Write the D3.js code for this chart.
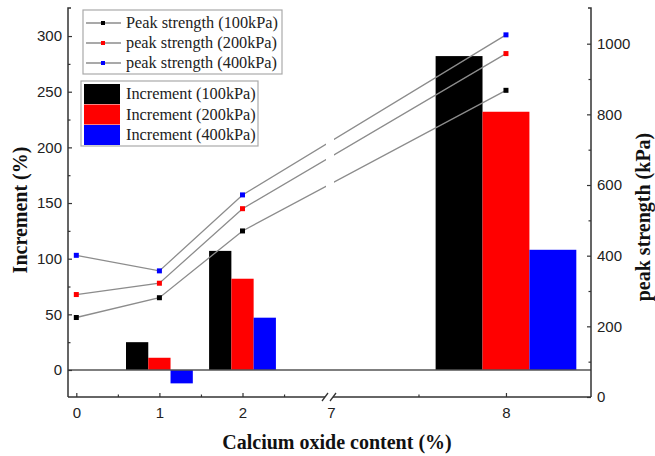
<!DOCTYPE html>
<html>
<head>
<meta charset="utf-8">
<script src="https://cdn.jsdelivr.net/npm/d3@7"></script>
<style>
  body { margin: 0; background: #fff; }
  svg { display: block; }
  .tick text { font-family: "Liberation Sans", Arial, sans-serif; font-size: 15px; fill: #222; }
</style>
</head>
<body>
<div id="chart"></div>
<script>
// calcium oxide content (%) for the strength points
const contents = [0, 1, 2, 8];
const peak100 = [225, 281, 470, 868];
const peak200 = [290, 322, 533, 972];
const peak400 = [401, 357, 572, 1025];

// increments only exist at 1, 2 and 8 %
const barContents = [1, 2, 8];
const inc100 = [25, 107, 282];
const inc200 = [11, 82, 232];
const inc400 = [-12, 47, 108];

const xTicks1 = [0, 1, 2];
const xTicks2 = [7, 8];
const leftTicks = [0, 50, 100, 150, 200, 250, 300];
const rightTicks = [0, 200, 400, 600, 800, 1000];

const lineNames = ["Peak strength (100kPa)", "peak strength (200kPa)", "peak strength (400kPa)"];
const barNames = ["Increment (100kPa)", "Increment (200kPa)", "Increment (400kPa)"];
const colors = ["#000000", "#ff0000", "#0000ff"];

const width = 655, height = 456;
const margin = { left: 68, right: 591, top: 8, bottom: 397 };
const breakL = 326, breakR = 334;

const svg = d3.select("#chart").append("svg")
    .attr("width", width)
    .attr("height", height);

// broken x axis: two linear pieces
const x1 = d3.scaleLinear().domain([-0.1, 3]).range([margin.left, 325.6]);
const x2 = d3.scaleLinear().domain([7, 8.486]).range([331, margin.right]);
const x = v => v <= 3.5 ? x1(v) : x2(v);
const px = v => v <= 3.5 ? 83.1 : 175;   // px per unit, for bar widths

const yL = d3.scaleLinear().domain([-24.25, 325.2]).range([margin.bottom, margin.top]);
const yR = d3.scaleLinear().domain([0, 1101]).range([margin.bottom, margin.top]);

const axisColor = "#333";
const fmt = d3.format("d");

// bars
const barW = 0.268;
const barSeries = [inc100, inc200, inc400];
barSeries.forEach((s, i) => {
    svg.append("g")
        .selectAll("rect")
        .data(s.map((v, j) => ({c: barContents[j], v})))
        .join("rect")
        .attr("x", d => x(d.c) + (i - 1.5) * barW * px(d.c))
        .attr("width", d => barW * px(d.c))
        .attr("y", d => Math.min(yL(d.v), yL(0)))
        .attr("height", d => Math.abs(yL(d.v) - yL(0)))
        .attr("fill", colors[i]);
});

// zero line
svg.append("line")
    .attr("x1", margin.left).attr("x2", margin.right)
    .attr("y1", yL(0)).attr("y2", yL(0))
    .attr("stroke", "#555").attr("stroke-width", 1.5);

// strength lines, cut at the axis break
const clip = svg.append("clipPath").attr("id", "gap");
clip.append("rect").attr("x", 0).attr("y", 0).attr("width", breakL).attr("height", height);
clip.append("rect").attr("x", breakR).attr("y", 0).attr("width", width - breakR).attr("height", height);

const lineSeries = [peak100, peak200, peak400];
const line = d3.line().x(d => x(d.c)).y(d => yR(d.v));
lineSeries.forEach((s, i) => {
    const pts = s.map((v, j) => ({c: contents[j], v}));
    svg.append("path")
        .datum(pts)
        .attr("clip-path", "url(#gap)")
        .attr("fill", "none")
        .attr("stroke", "#8c8c8c")
        .attr("stroke-width", 1.3)
        .attr("d", line);
    svg.append("g")
        .selectAll("rect")
        .data(pts)
        .join("rect")
        .attr("x", d => x(d.c) - 2.5)
        .attr("y", d => yR(d.v) - 2.5)
        .attr("width", 5).attr("height", 5)
        .attr("fill", colors[i]);
});

// axes
function styleAxis(g) {
    g.select(".domain").remove();
    g.selectAll(".tick line").attr("stroke", axisColor).attr("stroke-width", 1.2);
}

svg.append("g")
    .attr("transform", `translate(${margin.left},0)`)
    .call(d3.axisLeft(yL).tickValues(leftTicks).tickFormat(fmt).tickSize(-4).tickPadding(6))
    .call(styleAxis);
svg.append("g")
    .attr("transform", `translate(${margin.left},0)`)
    .call(d3.axisLeft(yL).tickValues(d3.range(25, 325, 50)).tickSize(-2.5).tickFormat(""))
    .call(styleAxis);

svg.append("g")
    .attr("transform", `translate(${margin.right},0)`)
    .call(d3.axisRight(yR).tickValues(rightTicks).tickFormat(fmt).tickSize(-4).tickPadding(6))
    .call(styleAxis);
svg.append("g")
    .attr("transform", `translate(${margin.right},0)`)
    .call(d3.axisRight(yR).tickValues(d3.range(100, 1100, 200)).tickSize(-2.5).tickFormat(""))
    .call(styleAxis);

svg.append("g")
    .attr("transform", `translate(0,${margin.bottom})`)
    .call(d3.axisBottom(x1).tickValues(xTicks1).tickFormat(fmt).tickSize(-4).tickPadding(10))
    .call(styleAxis);
svg.append("g")
    .attr("transform", `translate(0,${margin.bottom})`)
    .call(d3.axisBottom(x1).tickValues([0.5, 1.5, 2.5]).tickSize(-2.5).tickFormat(""))
    .call(styleAxis);
const xa2 = svg.append("g")
    .attr("transform", `translate(0,${margin.bottom})`)
    .call(d3.axisBottom(x2).tickValues(xTicks2).tickFormat(fmt).tickSize(-4).tickPadding(10))
    .call(styleAxis);
xa2.selectAll(".tick").filter(d => d === 7).select("line").remove();
svg.append("g")
    .attr("transform", `translate(0,${margin.bottom})`)
    .call(d3.axisBottom(x2).tickValues([7.5]).tickSize(-2.5).tickFormat(""))
    .call(styleAxis);

// axis lines
const frame = svg.append("g").attr("stroke", axisColor).attr("stroke-width", 1.5).attr("fill", "none");
frame.append("path").attr("d", `M${margin.left + 3},${margin.top}H${margin.left}V${margin.bottom}`);
frame.append("path").attr("d", `M${margin.right - 3},${margin.top}H${margin.right}V${margin.bottom}`);
frame.append("line").attr("x1", margin.left).attr("x2", breakL - 1).attr("y1", margin.bottom).attr("y2", margin.bottom);
frame.append("line").attr("x1", breakR - 1).attr("x2", margin.right).attr("y1", margin.bottom).attr("y2", margin.bottom);
[breakL - 1, breakR - 1].forEach(bx => {
    frame.append("line")
        .attr("x1", bx - 3).attr("y1", margin.bottom + 4)
        .attr("x2", bx + 3).attr("y2", margin.bottom - 4)
        .attr("stroke-width", 1.3);
});

// axis titles
const titleFont = "'Liberation Serif', 'Times New Roman', serif";
svg.append("text")
    .attr("x", 337).attr("y", 449)
    .attr("text-anchor", "middle")
    .style("font-family", titleFont).style("font-weight", "bold").style("font-size", "20px")
    .attr("fill", "#111")
    .text("Calcium oxide content (%)");
svg.append("text")
    .attr("transform", "translate(27,210) rotate(-90)")
    .attr("text-anchor", "middle")
    .style("font-family", titleFont).style("font-weight", "bold").style("font-size", "20px")
    .attr("fill", "#111")
    .text("Increment  (%)");
svg.append("text")
    .attr("transform", "translate(650,217) rotate(-90)")
    .attr("text-anchor", "middle")
    .style("font-family", titleFont).style("font-weight", "bold").style("font-size", "20px")
    .attr("fill", "#111")
    .text("peak strength (kPa)");

// legend for the lines
const legFont = "'Liberation Serif', 'Times New Roman', serif";
const leg1 = svg.append("g");
leg1.append("rect")
    .attr("x", 83).attr("y", 10).attr("width", 199).attr("height", 64)
    .attr("fill", "#fff").attr("stroke", "#aaa").attr("stroke-width", 1.2);
lineNames.forEach((n, i) => {
    const cy = 23 + i * 20;
    leg1.append("line").attr("x1", 86).attr("x2", 121).attr("y1", cy).attr("y2", cy)
        .attr("stroke", "#8c8c8c").attr("stroke-width", 1.3);
    leg1.append("rect").attr("x", 101).attr("y", cy - 2).attr("width", 4).attr("height", 4)
        .attr("fill", colors[i]);
    leg1.append("text").attr("x", 126).attr("y", cy + 5)
        .style("font-family", legFont).style("font-size", "16.3px").attr("fill", "#222")
        .text(n);
});

// legend for the bars
const leg2 = svg.append("g");
leg2.append("rect")
    .attr("x", 81).attr("y", 81).attr("width", 177).attr("height", 65)
    .attr("fill", "#fff").attr("stroke", "#aaa").attr("stroke-width", 1.2);
barNames.forEach((n, i) => {
    const ty = 84 + i * 20.5;
    leg2.append("rect").attr("x", 84).attr("y", ty).attr("width", 36).attr("height", 20)
        .attr("fill", colors[i]);
    leg2.append("text").attr("x", 126).attr("y", ty + 15)
        .style("font-family", legFont).style("font-size", "16.3px").attr("fill", "#222")
        .text(n);
});
</script>
</body>
</html>
